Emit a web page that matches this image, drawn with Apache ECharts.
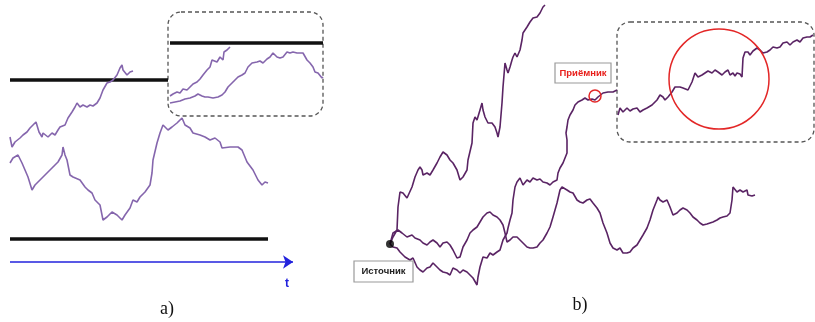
<!DOCTYPE html>
<html>
<head>
<meta charset="utf-8">
<script src="https://cdn.jsdelivr.net/npm/echarts@6/dist/echarts.min.js"></script>
<style>
  html, body { margin: 0; padding: 0; background: #fff; }
  #chart { width: 815px; height: 322px; }
</style>
</head>
<body>
<div id="chart"></div>
<script>
// ---- Panel a): two random walks between two absorbing barriers ----
const aWalkUpper = [[10,137],[12,147],[15,142],[17,143],[20,138],[23,135],[27,132],[30,128],[33,125],[36,122],[38,120],[39,132],[42,137],[43,133],[45,135],[48,137],[52,133],[55,135],[58,130],[60,127],[62,128],[65,125],[68,118],[72,112],[75,107],[77,103],[80,107],[83,105],[87,107],[90,105],[93,106],[97,103],[100,98],[103,90],[107,83],[110,82],[113,80],[117,75],[120,68],[122,65],[123,70],[127,75],[130,72],[133,71]];
const aWalkLower = [[10,163],[13,158],[18,155],[22,163],[25,170],[28,177],[32,190],[35,185],[38,182],[42,178],[45,175],[48,172],[52,168],[55,165],[58,162],[62,155],[63,147],[65,155],[67,160],[68,158],[70,175],[73,177],[80,180],[85,187],[88,190],[92,193],[95,200],[100,205],[103,220],[107,217],[112,212],[117,215],[122,220],[125,215],[130,208],[133,200],[137,202],[140,197],[145,192],[150,185],[152,173],[153,160],[157,143],[160,133],[163,125],[165,123],[168,130],[172,127],[177,123],[182,118],[185,125],[190,128],[193,133],[200,135],[205,137],[210,140],[215,138],[220,142],[222,148],[230,147],[238,147],[242,150],[247,162],[253,170],[258,180],[262,185],[265,182],[268,183]];
const aZoomUpper = [[170,96],[173,94],[177,92],[180,93],[183,89],[187,90],[190,87],[193,84],[197,82],[200,79],[203,75],[207,70],[210,67],[212,60],[213,58],[217,62],[220,57],[223,60],[224,52],[227,50],[230,47]];
const aZoomLower = [[170,103],[175,102],[180,101],[185,99],[190,98],[195,96],[198,94],[202,96],[205,97],[208,97],[213,98],[218,97],[222,95],[225,92],[228,87],[232,83],[235,80],[238,77],[242,75],[245,73],[248,67],[252,63],[257,62],[260,61],[263,63],[267,59],[270,57],[273,53],[277,57],[280,58],[283,57],[287,52],[290,53],[293,52],[297,53],[300,53],[303,53],[307,60],[310,63],[313,67],[315,72],[318,73],[322,78],[323,77]];
// barriers: [xStart, level, xEnd]
const aBarriers = [[10,80,168],[170,43,323],[10,239,268]];
const aTimeAxis = [[10,262],[293,262]];

// ---- Panel b): three walks from the source, one reaching the receiver ----
const bWalkSteep = [[390,244],[393,237],[397,230],[398,207],[400,192],[403,193],[407,198],[408,200],[412,187],[415,177],[418,170],[420,167],[422,170],[423,175],[427,173],[430,175],[433,170],[437,163],[440,157],[443,152],[445,150],[447,155],[450,160],[453,163],[457,170],[460,180],[463,177],[467,170],[468,160],[472,143],[473,123],[475,117],[477,120],[480,110],[482,103],[483,110],[485,117],[487,118],[488,123],[492,123],[495,127],[497,133],[498,137],[500,127],[502,103],[503,87],[505,63],[507,70],[508,73],[510,67],[512,60],[513,57],[515,53],[517,57],[520,50],[522,40],[523,33],[525,30],[527,27],[530,22],[532,20],[533,18],[537,17],[540,13],[543,7],[545,5]];
const bWalkReceiver = [[390,244],[393,247],[397,248],[400,252],[405,257],[410,260],[413,258],[417,267],[420,270],[423,272],[427,268],[430,267],[433,263],[437,267],[440,270],[443,272],[447,273],[450,275],[453,268],[457,270],[460,273],[463,270],[467,272],[470,275],[473,278],[477,285],[478,277],[480,267],[483,257],[487,258],[490,253],[493,255],[497,252],[500,250],[503,240],[507,233],[508,228],[510,220],[512,213],[513,200],[515,187],[517,182],[520,178],[523,185],[527,180],[530,182],[533,178],[537,180],[540,179],[543,182],[547,183],[550,185],[553,182],[557,180],[558,173],[560,168],[563,163],[565,158],[567,153],[567,140],[566,133],[567,127],[568,120],[570,115],[573,110],[575,105],[578,102],[582,100],[585,98],[588,100],[592,99],[595,100],[598,97],[603,93],[608,92],[613,92],[617,90]];
const bWalkLong = [[390,244],[393,233],[398,230],[402,233],[407,237],[412,235],[415,238],[420,240],[423,243],[427,245],[430,242],[433,240],[437,243],[440,247],[443,243],[447,242],[450,245],[453,250],[457,258],[460,257],[463,247],[467,240],[470,233],[473,230],[477,227],[480,222],[483,217],[487,213],[490,212],[493,215],[497,217],[500,220],[503,225],[505,233],[507,242],[510,240],[513,237],[517,237],[520,240],[523,243],[527,247],[530,248],[533,248],[537,247],[540,243],[543,240],[547,233],[550,227],[553,217],[557,203],[560,190],[562,187],[563,188],[567,190],[570,192],[573,193],[577,200],[580,202],[583,203],[587,200],[590,199],[593,203],[597,208],[600,213],[603,223],[607,233],[610,243],[613,248],[617,250],[620,248],[623,253],[627,253],[630,252],[633,248],[637,245],[640,240],[643,235],[647,228],[650,220],[653,210],[657,200],[658,197],[660,200],[663,202],[667,200],[670,207],[673,215],[677,213],[680,210],[683,208],[687,210],[690,213],[693,217],[697,220],[700,223],[703,225],[707,224],[710,223],[713,222],[717,220],[720,218],[723,217],[727,216],[730,213],[732,200],[733,187],[737,192],[740,190],[743,192],[747,190],[748,195],[752,196],[755,195]];
const bZoomWalk = [[618,115],[620,108],[623,112],[627,108],[630,111],[633,109],[637,108],[640,112],[643,110],[647,108],[648,107],[652,105],[653,107],[657,100],[660,95],[663,97],[665,100],[668,97],[672,92],[675,87],[677,85],[680,87],[683,88],[688,90],[692,82],[695,73],[698,77],[702,75],[705,73],[708,71],[712,73],[715,70],[718,72],[722,75],[725,72],[728,70],[730,75],[732,77],[733,73],[735,76],[737,73],[738,75],[740,74],[742,77],[743,58],[745,52],[747,53],[748,52],[750,55],[753,51],[757,48],[760,50],[763,53],[767,52],[770,50],[773,47],[777,48],[780,47],[783,43],[787,42],[790,45],[793,42],[797,40],[800,42],[803,38],[807,37],[810,37],[813,35]];
const bSource = [[390,244]];

// dashed zoom frames: [x0, y0, x1, y1]
const zoomFrames = [[168,12,323,116],[617,22,814,142]];
// red circles: [cx, cy, radius]
const redCircles = [[595,96,6],[719,79,50]];
// boxed captions: [x0, y0, x1, y1]
const captionBoxes = [[354,261,413,282],[555,63,611,83]];
const captionTexts = ['Источник', 'Приёмник'];
const captionColors = ['#222222', '#e8201c'];
// free text: [x, y]
const freeTextPos = [[167,309],[580,305],[287,284]];
const freeTexts = ['a)', 'b)', 't'];

const purpleA = '#8566ad';
const purpleB = '#5a2464';

function walk(data, color) {
  return {
    type: 'line', data: data, showSymbol: false, symbol: 'none',
    lineStyle: { color: color, width: 1.6 }, silent: true, z: 3
  };
}

const series = [];
aBarriers.forEach(function (b) {
  series.push({
    type: 'line', data: [[b[0], b[1]], [b[2], b[1]]], symbol: 'none',
    lineStyle: { color: '#111111', width: 3.4 }, silent: true, z: 2
  });
});
[aWalkUpper, aWalkLower, aZoomUpper, aZoomLower].forEach(function (d) { series.push(walk(d, purpleA)); });
[bWalkSteep, bWalkReceiver, bWalkLong, bZoomWalk].forEach(function (d) { series.push(walk(d, purpleB)); });

// time axis arrow
series.push({
  type: 'lines', coordinateSystem: 'cartesian2d', polyline: false,
  symbol: ['none', 'arrow'], symbolSize: 10,
  lineStyle: { color: '#2222dd', width: 1.6, opacity: 1 },
  data: [{ coords: aTimeAxis }], silent: true, z: 2
});

// dashed rounded frames
series.push({
  type: 'custom', data: zoomFrames, silent: true, z: 1,
  renderItem: function (params, api) {
    const p0 = api.coord([api.value(0), api.value(1)]);
    const p1 = api.coord([api.value(2), api.value(3)]);
    return {
      type: 'rect',
      shape: { x: p0[0], y: p0[1], width: p1[0] - p0[0], height: p1[1] - p0[1], r: 13 },
      style: { fill: null, stroke: '#555555', lineWidth: 1.3, lineDash: [4, 3] }
    };
  }
});

// red circles
series.push({
  type: 'custom', data: redCircles, silent: true, z: 4,
  renderItem: function (params, api) {
    const c = api.coord([api.value(0), api.value(1)]);
    const r = api.size([api.value(2), api.value(2)])[0];
    return {
      type: 'circle', shape: { cx: c[0], cy: c[1], r: r },
      style: { fill: null, stroke: '#e32727', lineWidth: 1.5 }
    };
  }
});

// boxed captions
series.push({
  type: 'custom', data: captionBoxes, silent: true, z: 5,
  renderItem: function (params, api) {
    const p0 = api.coord([api.value(0), api.value(1)]);
    const p1 = api.coord([api.value(2), api.value(3)]);
    const i = params.dataIndex;
    return {
      type: 'group',
      children: [{
        type: 'rect',
        shape: { x: p0[0], y: p0[1], width: p1[0] - p0[0], height: p1[1] - p0[1] },
        style: { fill: '#ffffff', stroke: '#9a9a9a', lineWidth: 1.2 }
      }, {
        type: 'text',
        style: {
          x: (p0[0] + p1[0]) / 2, y: (p0[1] + p1[1]) / 2,
          text: captionTexts[i], fill: captionColors[i],
          font: 'bold 9.5px "Liberation Sans", sans-serif',
          align: 'center', verticalAlign: 'middle'
        }
      }]
    };
  }
});

// panel letters and axis name
series.push({
  type: 'custom', data: freeTextPos, silent: true, z: 5,
  renderItem: function (params, api) {
    const p = api.coord([api.value(0), api.value(1)]);
    const i = params.dataIndex;
    const isAxis = freeTexts[i] === 't';
    return {
      type: 'text',
      style: {
        x: p[0], y: p[1], text: freeTexts[i],
        fill: isAxis ? '#2222dd' : '#111111',
        font: isAxis ? 'bold 12px "Liberation Sans", sans-serif' : '18px "Liberation Serif", serif',
        align: 'center', verticalAlign: 'middle'
      }
    };
  }
});

// source point
series.push({
  type: 'scatter', data: bSource, symbolSize: 8, silent: true, z: 6,
  itemStyle: { color: '#000000' }
});

const chart = echarts.init(document.getElementById('chart'), null, { renderer: 'canvas' });
chart.setOption({
  animation: false,
  backgroundColor: '#ffffff',
  grid: { left: 0, right: 0, top: 0, bottom: 0 },
  xAxis: { type: 'value', min: 0, max: 815, show: false },
  yAxis: { type: 'value', min: 0, max: 322, inverse: true, show: false },
  series: series
});
</script>
</body>
</html>
